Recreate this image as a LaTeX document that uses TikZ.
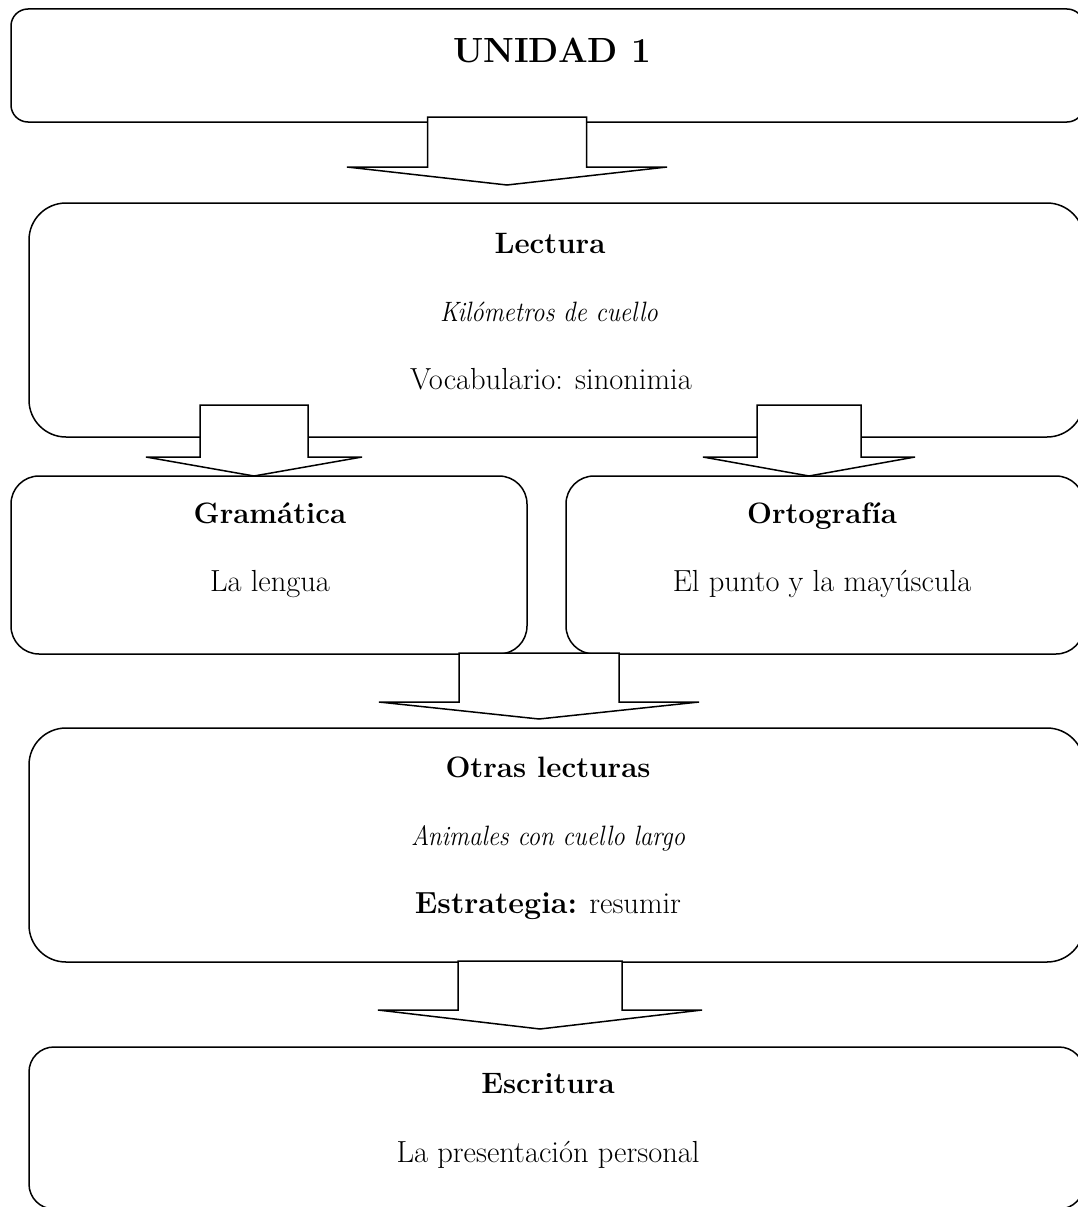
\documentclass[tikz,border=0pt]{standalone}
\usepackage{fontspec}
\usepackage{graphicx}
\usetikzlibrary{calc}
\newcommand{\myblockarrow}[5]{%
  \draw[blockarr] (#1) -- ++(#2,-#3) -- ++({-(#2-#4)},0) -- ++(0,-#5)
    -- ++({-2*#4},0) -- ++(0,#5) -- ++({-(#2-#4)},0) -- cycle;}
\newcommand{\narrowit}[1]{\scalebox{0.89}[1]{#1}}
\begin{document}
\begin{tikzpicture}[x=1pt,y=-1pt,
  box/.style={draw, line width=1.5pt, rounded corners=#1, inner sep=0pt, outer sep=0pt},
  blockarr/.style={draw, fill=white, line width=1.5pt, line join=miter},
  txt/.style={anchor=base, inner sep=0pt, font=\fontsize{30.5}{36}\selectfont},
  ttl/.style={txt, font=\fontsize{29.5}{36}\selectfont\bfseries},
  itl/.style={txt, font=\fontsize{28}{34}\selectfont\itshape},
  big/.style={txt, font=\fontsize{35}{40}\selectfont\bfseries}]
\useasboundingbox (0,0) rectangle (1078,1207);
\clip (0,0) rectangle (1078,1207);
% boxes
\node[box=17pt, minimum width=1073pt, minimum height=113pt] (unidad) at (547.5,65.5) {};
\node[box=37pt, minimum width=1055pt, minimum height=234pt] (lectura) at (556.5,320) {};
\node[box=28pt, minimum width=516pt, minimum height=178pt] (gramatica) at (269,565) {};
\node[box=28pt, minimum width=518pt, minimum height=178pt] (ortografia) at (825,565) {};
\node[box=37pt, minimum width=1055pt, minimum height=234pt] (otras) at (556.5,845) {};
\node[box=25pt, minimum width=1055pt, minimum height=162pt] (escritura) at (556.5,1128) {};
% arrow tips
\coordinate (t1) at (507,185);
\coordinate (t2) at (254,476);
\coordinate (t3) at (809,476);
\coordinate (t4) at (539,719);
\coordinate (t5) at (540,1029);
\myblockarrow{t1}{160}{18}{79.5}{50}
\myblockarrow{t2}{108}{19}{54}{52}
\myblockarrow{t3}{106}{19}{52}{52}
\myblockarrow{t4}{160}{17}{80}{49}
\myblockarrow{t5}{162}{19}{82}{49}
% texts
\node[big] (u1) at (552,63) {UNIDAD 1};
\node[ttl] (l1) at (550,253) {Lectura};
\node[itl] (l2) at (549,321) {\narrowit{Kilómetros de cuello}};
\node[txt] (l3) at (551,389) {Vocabulario: sinonimia};
\node[ttl] (g1) at (270,523) {Gramática};
\node[txt] (g2) at (270,591) {La lengua};
\node[ttl] (o1) at (822,523) {Ortografía};
\node[txt] (o2) at (822,591) {El punto y la mayúscula};
\node[ttl] (r1) at (548,777) {Otras lecturas};
\node[itl] (r2) at (548,845) {\narrowit{Animales con cuello largo}};
\node[txt] (r3) at (548,913) {\textbf{Estrategia:} resumir};
\node[ttl] (e1) at (548,1093) {Escritura};
\node[txt] (e2) at (548,1162) {La presentación personal};
\end{tikzpicture}
\end{document}
